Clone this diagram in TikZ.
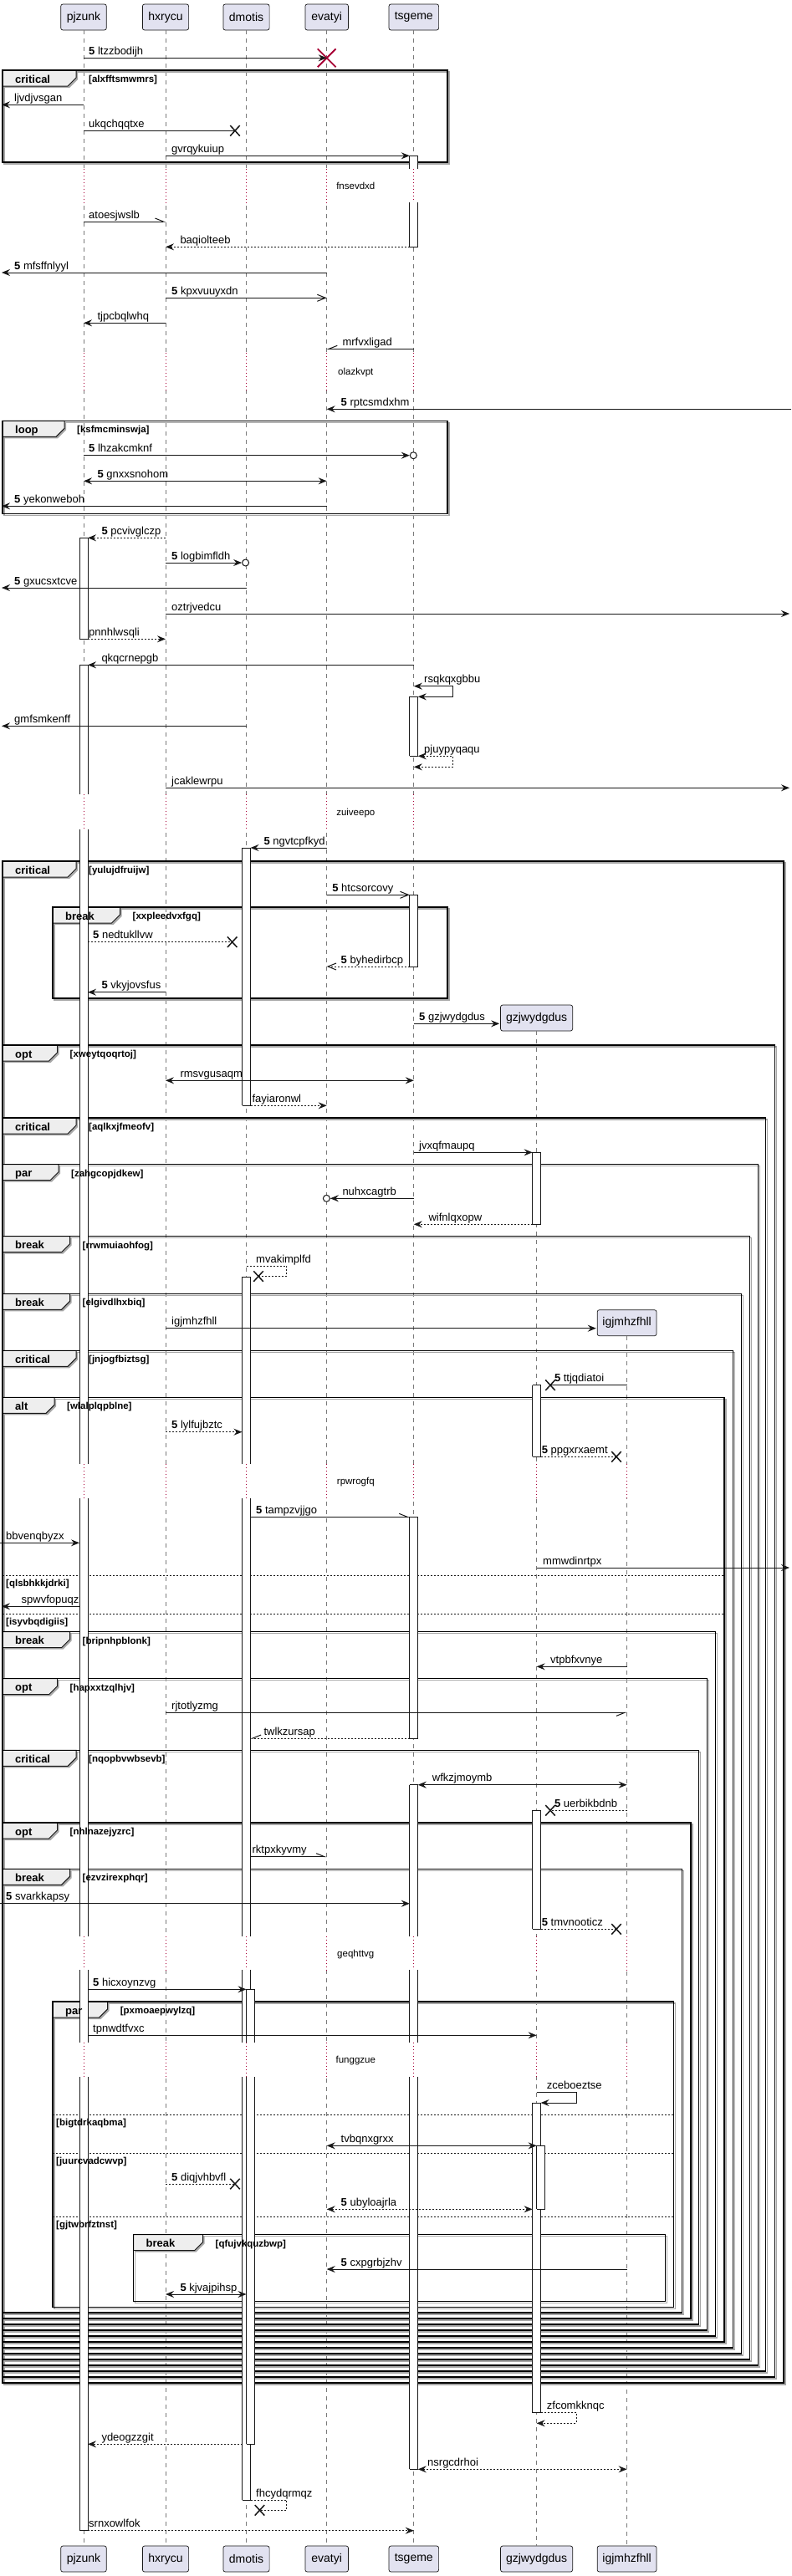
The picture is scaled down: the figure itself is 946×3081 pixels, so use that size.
\documentclass[tikz,border=0pt]{standalone}
\usepackage{fontspec}
\setmainfont{Liberation Sans}
\usetikzlibrary{arrows.meta,shapes.misc}
\definecolor{partfill}{HTML}{E2E2F0}
\definecolor{ink}{HTML}{181818}
\definecolor{tabfill}{HTML}{EEEEEE}
\definecolor{delaycol}{HTML}{A80036}
\definecolor{lifecol}{HTML}{7A7A7A}
\definecolor{shadowcol}{HTML}{A8A8A8}

\newcommand\Num{\textbf{5}\space}

\newcommand\Msg[7]{%
  \coordinate (#1a) at (#2,#4);
  \coordinate (#1b) at (#3,#4);
  \draw[msg,#5] (#1a) -- (#1b);
  \node[lbl] (#1t) at (#6,#4-4) {#7};}

\newcommand\MsgX[8]{%
  \node[#8] (#1x) at (#3,#4) {};
  \coordinate (#1a) at (#2,#4);
  \draw[msg,#5] (#1a) -- (#1x.center);
  \node[lbl] (#1t) at (#6,#4-4) {#7};}

\newcommand\MsgO[6]{%
  \node[circ] (#1c) at (#3,#4) {};
  \coordinate (#1a) at (#2,#4);
  \draw[msg,ar] (#1a) -- (#1c);
  \node[lbl] (#1t) at (#5,#4-4) {#6};}

\newcommand\Self[9]{%
  \coordinate (#1a) at (#2,#3);
  \coordinate (#1b) at (#6,#3);
  \coordinate (#1c) at (#6,#5);
  \coordinate (#1d) at (#4,#5);
  \draw[msg,#7] (#1a) -- (#1b) -- (#1c) -- (#1d);
  \node[lbl] (#1t) at (#8,#3-4) {#9};}

% frame shapes: name, x1, y1, x2, y2, tab width
\newcommand\Frame[6]{%
  \draw[fshadow] (#2+2,#3+2) rectangle (#4+2,#5+2);
  \path[fill=shadowcol] (#2+2,#3+2) -- (#2+#6+2,#3+2) -- (#2+#6+2,#3+11) -- (#2+#6-8,#3+21) -- (#2+2,#3+21) -- cycle;
  \path[tab] (#2,#3) -- (#2+#6,#3) -- (#2+#6,#3+9) -- (#2+#6-10,#3+19) -- (#2,#3+19) -- cycle;
  \draw[fline] (#2,#3) rectangle (#4,#5);}
% frame texts: name, x1, y1, keyword, tab width, guard
\newcommand\FT[6]{%
  \node[kw] (#1k) at (#2+15,#3+15) {#4};
  \node[guard] (#1g) at (#2+#5+15,#3+14.5) {#6};}

\newcommand\Sep[4]{%
  \coordinate (#1a) at (#2,#4);
  \coordinate (#1b) at (#3,#4);
  \draw[sepline] (#1a) -- (#1b);}
\newcommand\SepT[4]{%
  \node[guard] (#1g) at (#2+4,#3+13) {#4};}

\newcommand\Delay[5]{%
  \foreach \xx in {#5} {\fill[white] (\xx-2,#2) rectangle (\xx+2,#3);
     \draw[delayline] (\xx,#2) -- (\xx,#3);}
  \node[dtext] (#1) at (425.3,{(#2+#3)/2+4.5}) {#4};}

\newcommand\Bar[5]{%
  \fill[white] (#1-5,#2) rectangle (#1+5,#3);
  \draw[actline] (#1-5,#2) -- (#1-5,#3) (#1+5,#2) -- (#1+5,#3);
  \ifnum#4=1 \draw[actline] (#1-5,#2) -- (#1+5,#2);\fi
  \ifnum#5=1 \draw[actline] (#1-5,#3) -- (#1+5,#3);\fi}

\tikzset{
  part/.style={draw=ink, fill=partfill, line width=0.7pt, rounded corners=2.5pt, minimum height=31pt, inner sep=0pt, font=\fontsize{14}{16}\selectfont},
  life/.style={draw=lifecol, line width=0.7pt, dash pattern=on 5pt off 5pt},
  delayline/.style={draw=delaycol, line width=1pt, dash pattern=on 1pt off 3pt},
  msg/.style={draw=ink, line width=1pt},
  dsh/.style={dash pattern=on 2pt off 2pt},
  ar/.style={-{Stealth[length=10pt,width=8pt,inset=3.5pt]}},
  bi/.style={{Stealth[length=10pt,width=8pt,inset=3.5pt]}-{Stealth[length=10pt,width=8pt,inset=3.5pt]}},
  op/.style={-{Straight Barb[length=10pt,width=8pt]}},
  hl/.style={-{Straight Barb[left,length=10pt,width=8pt]}},
  hr/.style={-{Straight Barb[right,length=10pt,width=8pt]}},
  lbl/.style={anchor=base west, inner sep=0pt, font=\fontsize{13}{15}\selectfont},
  kw/.style={anchor=base west, inner sep=0pt, font=\bfseries\fontsize{13}{15}\selectfont},
  guard/.style={anchor=base west, inner sep=0pt, font=\bfseries\fontsize{11.5}{13}\selectfont},
  dtext/.style={anchor=base, inner sep=0pt, font=\fontsize{11.5}{13}\selectfont},
  fline/.style={draw=black, line width=1.5pt},
  fshadow/.style={draw=shadowcol, line width=1.5pt},
  tab/.style={fill=tabfill, draw=ink, line width=1pt},
  sepline/.style={draw=ink, line width=1pt, dash pattern=on 2pt off 2pt},
  actline/.style={draw=ink, line width=1pt},
  lostx/.style={cross out, draw=ink, line width=1.5pt, minimum width=10pt, minimum height=11pt, inner sep=0pt},
  redx/.style={cross out, draw=delaycol, line width=1.8pt, minimum size=20pt, inner sep=0pt},
  circ/.style={circle, draw=ink, line width=1pt, fill=white, minimum size=8pt, inner sep=0pt},
}

\begin{document}
\begin{tikzpicture}[x=1pt,y=-1pt]
\useasboundingbox (0,0) rectangle (946,3081);
\fill[white] (0,0) rectangle (946,3081);

% participants
\node[part, minimum width=54.6pt] (pjzT) at (100,20.5) {pjzunk};
\node[part, minimum width=55.2pt] (hxrT) at (198,20.5) {hxrycu};
\node[part, minimum width=55.2pt] (dmoT) at (294.5,20.5) {dmotis};
\node[part, minimum width=51.6pt] (evaT) at (390.7,20.5) {evatyi};
\node[part, minimum width=59.6pt] (tsgT) at (494.8,20.5) {tsgeme};
\node[part, minimum width=86.1pt] (gzjT) at (641.6,1217.5) {gzjwydgdus};
\node[part, minimum width=70.9pt] (igjT) at (749.6,1582.2) {igjmhzfhll};
\node[part, minimum width=54.6pt] (pjzB) at (100,3060.5) {pjzunk};
\node[part, minimum width=55.2pt] (hxrB) at (198,3060.5) {hxrycu};
\node[part, minimum width=55.2pt] (dmoB) at (294.5,3060.5) {dmotis};
\node[part, minimum width=51.6pt] (evaB) at (390.7,3060.5) {evatyi};
\node[part, minimum width=59.6pt] (tsgB) at (494.8,3060.5) {tsgeme};
\node[part, minimum width=86.1pt] (gzjB) at (641.6,3060.5) {gzjwydgdus};
\node[part, minimum width=70.9pt] (igjB) at (749.6,3060.5) {igjmhzfhll};

% lifelines
\draw[life] (pjzT.south) -- (pjzB.north);
\draw[life] (hxrT.south) -- (hxrB.north);
\draw[life] (dmoT.south) -- (dmoB.north);
\draw[life] (evaT.south) -- (evaB.north);
\draw[life] (tsgT.south) -- (tsgB.north);
\draw[life] (gzjT.south) -- (gzjB.north);
\draw[life] (igjT.south) -- (igjB.north);

% delays
\Delay{d1}{201.7}{242.3}{fnsevdxd}{100,198,294.5,390.7,494.8}
\Delay{d2}{421.7}{466.7}{olazkvpt}{100,198,294.5,390.7,494.8}
\Delay{d3}{950}{991.7}{zuiveepo}{100,198,294.5,390.7,494.8}
\Delay{d4}{1750.7}{1791.7}{rpwrogfq}{100,198,294.5,390.7,494.8,641.6,749.6}
\Delay{d5}{2315.7}{2356}{geqhttvg}{100,198,294.5,390.7,494.8,641.6,749.6}
\Delay{d6}{2442.7}{2484}{funggzue}{100,198,294.5,390.7,494.8,641.6,749.6}

% frames
\Frame{f1}{3}{84}{535}{194}{88}
\Frame{f2}{3}{503.3}{535}{614.3}{74}
\Frame{f3}{3}{1030}{937}{2850}{88}
\Frame{f4}{63}{1085}{535}{1194}{80.5}
\Frame{f5}{3}{1250}{926.6}{2843}{65.5}
\Frame{f6}{3}{1337}{915.7}{2836}{88}
\Frame{f7}{3}{1392.7}{906.6}{2829}{67}
\Frame{f8}{3}{1478.7}{896.3}{2822}{80.5}
\Frame{f9}{3}{1547.3}{886.6}{2815}{80.5}
\Frame{f10}{3}{1615.3}{876.3}{2808}{88}
\Frame{f11}{3}{1671.3}{866}{2801}{62}
\Frame{f12}{3}{1951.7}{855.7}{2794}{80.5}
\Frame{f13}{3}{2007.7}{845.4}{2787}{65.5}
\Frame{f14}{3}{2093.3}{835.7}{2780}{88}
\Frame{f15}{3}{2180}{826}{2773}{65.5}
\Frame{f16}{3}{2235.3}{815.7}{2766}{80.5}
\Frame{f17}{63}{2394}{805.3}{2759.3}{65.6}
\Frame{f18}{159.5}{2672.7}{795.6}{2752.3}{83}

\Sep{s1}{3}{866}{1884.3}
\Sep{s2}{3}{866}{1930.3}
\Sep{s3}{63}{805.3}{2529.3}
\Sep{s4}{63}{805.3}{2575}
\Sep{s5}{63}{805.3}{2651}

% activation bars
\Bar{494.8}{186.3}{201.7}{1}{0}
\Bar{494.8}{242.3}{295.3}{0}{1}
\Bar{100}{643.3}{764.3}{1}{1}
\Bar{100}{795.3}{950}{1}{0}
\Bar{100}{991.7}{1750.7}{0}{0}
\Bar{100}{1791.7}{2315.7}{0}{0}
\Bar{100}{2356}{2442.7}{0}{0}
\Bar{100}{2484}{3026.7}{0}{1}
\Bar{494.8}{833.3}{904.3}{1}{1}
\Bar{294.5}{1014}{1322.3}{1}{1}
\Bar{494.8}{1070.3}{1156}{1}{1}
\Bar{641.6}{1378.3}{1464.3}{1}{1}
\Bar{294.5}{1527.3}{1750.7}{1}{0}
\Bar{294.5}{1791.7}{2315.7}{0}{0}
\Bar{294.5}{2356}{2442.7}{0}{0}
\Bar{294.5}{2484}{2990}{0}{1}
\Bar{641.6}{1656.7}{1742.3}{1}{1}
\Bar{494.8}{1814.3}{2079}{1}{1}
\Bar{494.8}{2134.7}{2315.7}{1}{0}
\Bar{494.8}{2356}{2442.7}{0}{0}
\Bar{494.8}{2484}{2953.3}{0}{1}
\Bar{641.6}{2165.3}{2307.3}{1}{1}
\Bar{299.5}{2379.3}{2442.7}{1}{0}
\Bar{299.5}{2484}{2923.3}{0}{1}
\Bar{641.6}{2515}{2885.7}{1}{1}
\Bar{646.6}{2566.3}{2642.3}{1}{1}

% frame texts (over bars)
\FT{f1}{3}{84}{critical}{88}{[alxfftsmwmrs]}
\FT{f2}{3}{503.3}{loop}{74}{[ksfmcminswja]}
\FT{f3}{3}{1030}{critical}{88}{[yulujdfruijw]}
\FT{f4}{63}{1085}{break}{80.5}{[xxpleedvxfgq]}
\FT{f5}{3}{1250}{opt}{65.5}{[xweytqoqrtoj]}
\FT{f6}{3}{1337}{critical}{88}{[aqlkxjfmeofv]}
\FT{f7}{3}{1392.7}{par}{67}{[zahgcopjdkew]}
\FT{f8}{3}{1478.7}{break}{80.5}{[rrwmuiaohfog]}
\FT{f9}{3}{1547.3}{break}{80.5}{[elgivdlhxbiq]}
\FT{f10}{3}{1615.3}{critical}{88}{[jnjogfbiztsg]}
\FT{f11}{3}{1671.3}{alt}{62}{[wlalplqpblne]}
\FT{f12}{3}{1951.7}{break}{80.5}{[bripnhpblonk]}
\FT{f13}{3}{2007.7}{opt}{65.5}{[hapxxtzqlhjv]}
\FT{f14}{3}{2093.3}{critical}{88}{[nqopbvwbsevb]}
\FT{f15}{3}{2180}{opt}{65.5}{[nhlnazejyzrc]}
\FT{f16}{3}{2235.3}{break}{80.5}{[ezvzirexphqr]}
\FT{f17}{63}{2394}{par}{65.6}{[pxmoaepwylzq]}
\FT{f18}{159.5}{2672.7}{break}{83}{[qfujvkquzbwp]}
\SepT{s1}{3}{1884.3}{[qlsbhkkjdrki]}
\SepT{s2}{3}{1930.3}{[isyvbqdigiis]}
\SepT{s3}{63}{2529.3}{[bigtdrkaqbma]}
\SepT{s4}{63}{2575}{[juurcvadcwvp]}
\SepT{s5}{63}{2651}{[gjtwbrfztnst]}

% messages
\MsgX{m1}{100}{390.7}{69.3}{ar}{106}{\Num ltzzbodijh}{redx}
\Msg{m2}{100}{2}{125.3}{ar}{17}{ljvdjvsgan}
\MsgX{m3}{100}{281}{156.3}{}{106}{ukqchqqtxe}{lostx}
\Msg{m4}{198}{489.8}{186.3}{ar}{205}{gvrqykuiup}
\Msg{m5}{100}{198}{265}{hl}{106}{atoesjwslb}
\Msg{m6}{489.8}{198}{295.3}{ar,dsh}{215.3}{baqiolteeb}
\Msg{m7}{390.7}{2}{326}{ar}{17}{\Num mfsffnlyyl}
\Msg{m8}{198}{390.7}{356.3}{op}{205}{\Num kpxvuuyxdn}
\Msg{m9}{198}{100}{386.3}{ar}{116.4}{tjpcbqlwhq}
\Msg{m10}{494.8}{390.7}{417.3}{hr}{409.3}{mrfvxligad}
\Msg{m11}{946}{390.7}{489.3}{ar}{407.5}{\Num rptcsmdxhm}
\MsgO{m12}{100}{494.3}{544.7}{106}{\Num lhzakcmknf}
\Msg{m13}{100}{390.7}{575.3}{bi}{116.4}{\Num gnxxsnohom}
\Msg{m14}{390.7}{2}{605.3}{ar}{17}{\Num yekonweboh}
\Msg{m15}{198}{105}{643.3}{ar,dsh}{121.3}{\Num pcvivglczp}
\MsgO{m16}{198}{293.6}{673}{205}{\Num logbimfldh}
\Msg{m17}{294.5}{2}{703}{ar}{17}{\Num gxucsxtcve}
\Msg{m18}{198}{944}{734}{ar}{205}{oztrjvedcu}
\Msg{m19}{105}{198}{764.3}{ar,dsh}{106}{pnnhlwsqli}
\Msg{m20}{494.8}{105}{795.3}{ar}{121.3}{qkqcrnepgb}
\Self{m21}{494.8}{820.7}{499.8}{833.3}{541.5}{bi}{507}{rsqkqxgbbu}
\Msg{m22}{294.5}{2}{868.3}{ar}{17}{gmfsmkenff}
\Self{m23}{499.8}{904.3}{494.8}{917.3}{541.5}{bi,dsh}{507}{pjuypyqaqu}
\Msg{m24}{198}{944}{942.3}{ar}{205}{jcaklewrpu}
\Msg{m25}{390.7}{299.5}{1014}{ar}{315.3}{\Num ngvtcpfkyd}
\Msg{m26}{390.7}{489.8}{1070.3}{op}{397.2}{\Num htcsorcovy}
\MsgX{m27}{105}{277.7}{1126.7}{dsh}{111}{\Num nedtukllvw}{lostx}
\Msg{m28}{489.8}{390.7}{1156}{op,dsh}{407.5}{\Num byhedirbcp}
\Msg{m29}{198}{105}{1186.7}{ar}{121.3}{\Num vkyjovsfus}
\coordinate (m30a) at (494.8,1224.3);
\draw[msg,ar] (m30a) -- ([xshift=-1pt]m30a -| gzjT.west);
\node[lbl] (m30t) at (501,1220.3) {\Num gzjwydgdus};
\Msg{m31}{198}{494.8}{1292.3}{bi}{215.3}{rmsvgusaqm}
\Msg{m32}{299.5}{390.7}{1322.3}{ar,dsh}{301.4}{fayiaronwl}
\Msg{m33}{494.8}{636.6}{1378.3}{ar}{501}{jvxqfmaupq}
\MsgO{m34}{494.8}{390.4}{1433.3}{409.3}{nuhxcagtrb}
\Msg{m35}{636.6}{494.8}{1464.3}{ar,dsh}{512.4}{wifnlqxopw}
\node[lostx] (m36x) at (309,1526.5) {};
\Self{m36}{294.5}{1514}{309}{1526.5}{342.6}{dsh}{306}{mvakimplfd}
\coordinate (m37a) at (198,1588.7);
\draw[msg,ar] (m37a) -- ([xshift=-1pt]m37a -| igjT.west);
\node[lbl] (m37t) at (205,1584.7) {igjmhzfhll};
\MsgX{m38}{749.6}{658}{1656.7}{}{662.8}{\Num ttjqdiatoi}{lostx}
\Msg{m39}{198}{289.5}{1712.7}{ar,dsh}{205}{\Num lylfujbztc}
\MsgX{m40}{646.6}{737}{1742.3}{dsh}{647.7}{\Num ppgxrxaemt}{lostx}
\Msg{m41}{299.5}{489.8}{1814.3}{hl}{306}{\Num tampzvjjgo}
\Msg{m42}{0}{95}{1845.3}{ar}{7}{bbvenqbyzx}
\Msg{m43}{641.6}{944}{1875}{ar}{649}{mmwdinrtpx}
\Msg{m44}{95}{2}{1921.3}{ar}{25.5}{spwvfopuqz}
\Msg{m45}{749.6}{641.6}{1993.3}{ar}{658}{vtpbfxvnye}
\Msg{m46}{198}{749.6}{2048.3}{hr}{205}{rjtotlyzmg}
\Msg{m47}{489.8}{299.5}{2079}{hr,dsh}{315.3}{twlkzursap}
\Msg{m48}{499.8}{749.6}{2134.7}{bi}{516.7}{wfkzjmoymb}
\MsgX{m49}{749.6}{658}{2165.3}{dsh}{662.8}{\Num uerbikbdnb}{lostx}
\Msg{m50}{299.5}{390.7}{2220.7}{hl}{301.4}{rktpxkyvmy}
\Msg{m51}{0}{489.8}{2276.7}{ar}{7}{\Num svarkkapsy}
\MsgX{m52}{646.6}{737}{2307.3}{dsh}{647.7}{\Num tmvnooticz}{lostx}
\Msg{m53}{105}{294.5}{2379.3}{ar}{111}{\Num hicxoynzvg}
\Msg{m54}{105}{641.6}{2434.3}{ar}{111}{tpnwdtfvxc}
\Self{m55}{641.6}{2502.3}{646.6}{2515}{689}{ar}{653.7}{zceboeztse}
\Msg{m56}{390.7}{641.6}{2566.3}{bi}{407.5}{tvbqnxgrxx}
\MsgX{m57}{198}{281}{2612}{dsh}{205}{\Num diqjvhbvfl}{lostx}
\Msg{m58}{390.7}{636.6}{2642.3}{bi,dsh}{407.5}{\Num ubyloajrla}
\Msg{m59}{749.6}{390.7}{2714}{ar}{407.5}{\Num cxpgrbjzhv}
\Msg{m60}{198}{294.5}{2744}{bi}{215.3}{\Num kjvajpihsp}
\Self{m61}{646.6}{2885.7}{641.6}{2898.3}{689}{ar,dsh}{653.7}{zfcomkknqc}
\Msg{m62}{289.5}{105}{2923.3}{ar,dsh}{121.3}{ydeogzzgit}
\Msg{m63}{499.8}{749.6}{2953.3}{bi,dsh}{511}{nsrgcdrhoi}
\node[lostx] (m64x) at (310.5,3002.3) {};
\Self{m64}{299.5}{2990}{310.5}{3002.3}{342.6}{dsh}{306}{fhcydqrmqz}
\Msg{m65}{105}{494.8}{3026.7}{ar,dsh}{106}{srnxowlfok}
\end{tikzpicture}
\end{document}
